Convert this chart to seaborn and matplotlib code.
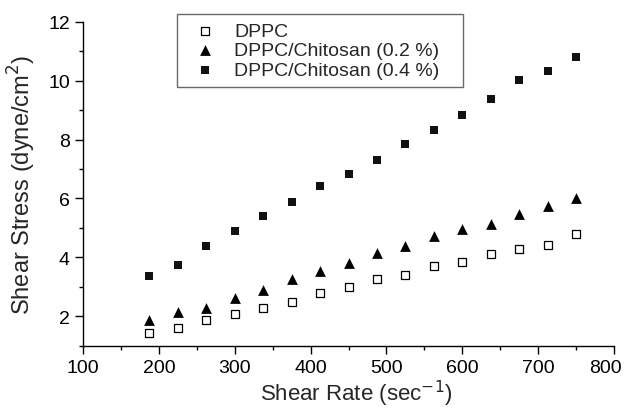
import numpy as np
import matplotlib
matplotlib.use('Agg')  # Non-interactive backend
import matplotlib.pyplot as plt
from matplotlib.ticker import MultipleLocator
from matplotlib.transforms import ScaledTranslation
import seaborn as sns
import pandas as pd

# Shear rate (sec^-1) and shear stress (dyne/cm^2)
shear_rate = [187.5, 225, 262.5, 300, 337.5, 375, 412.5, 450,
              487.5, 525, 562.5, 600, 637.5, 675, 712.5, 750]
stress_dppc = [1.43, 1.60, 1.86, 2.07, 2.27, 2.50, 2.78, 3.00,
               3.26, 3.39, 3.72, 3.85, 4.10, 4.27, 4.43, 4.79]
stress_chi_02 = [1.88, 2.14, 2.27, 2.61, 2.89, 3.26, 3.54, 3.81,
                 4.14, 4.39, 4.72, 4.96, 5.12, 5.46, 5.75, 6.02]
stress_chi_04 = [3.36, 3.73, 4.39, 4.89, 5.41, 5.87, 6.41, 6.82,
                 7.32, 7.85, 8.33, 8.83, 9.37, 10.01, 10.32, 10.80]
labels = ['DPPC', 'DPPC/Chitosan (0.2 %)', 'DPPC/Chitosan (0.4 %)']

sns.set_style('ticks')
plt.rcParams['font.family'] = ['Liberation Sans', 'DejaVu Sans']

fig = plt.figure(figsize=(6.26, 4.10), dpi=100)
ax = fig.add_axes([0.1326, 0.1544, 0.8484, 0.7902])

df = pd.DataFrame({'rate': shear_rate, 'a': stress_dppc,
                   'b': stress_chi_02, 'c': stress_chi_04})

sns.scatterplot(data=df, x='rate', y='a', marker='s', s=26, color='white',
                edgecolor='black', linewidth=0.9, label=labels[0], ax=ax)
sns.scatterplot(data=df, x='rate', y='b', marker='^', s=60, color='black',
                edgecolor='black', linewidth=0, label=labels[1], ax=ax)
sns.scatterplot(data=df, x='rate', y='c', marker='s', s=38, color='#111111',
                edgecolor='black', linewidth=0, label=labels[2], ax=ax)

ax.set_xlim(100, 800)
ax.set_ylim(1, 12)
ax.xaxis.set_major_locator(MultipleLocator(100))
ax.xaxis.set_minor_locator(MultipleLocator(50))
ax.yaxis.set_major_locator(MultipleLocator(2))
ax.yaxis.set_minor_locator(MultipleLocator(1))
ax.set_yticks([2, 4, 6, 8, 10, 12])

for side in ['top', 'right']:
    ax.spines[side].set_visible(False)
for side in ['left', 'bottom']:
    ax.spines[side].set_linewidth(1.0)
    ax.spines[side].set_color('black')

ax.tick_params(which='major', direction='out', length=5.5, width=1, labelsize=14,
               colors='black', pad=4)
ax.tick_params(which='minor', direction='out', length=3, width=1, colors='black')

ax.set_xlabel('Shear Rate (sec$^{-1}$)', fontsize=16)
ax.xaxis.set_label_coords(0.515, -0.098)
ax.set_ylabel('Shear Stress (dyne/cm$^{2}$)', fontsize=17, labelpad=7)

leg = ax.legend(loc='upper left', bbox_to_anchor=(0.177, 0.5, 0.5386, 0.524),
                mode='expand', borderaxespad=0, frameon=True, fancybox=False,
                fontsize=14, handletextpad=0.5, labelspacing=0.08, borderpad=0.45,
                handlelength=2.0)
leg.get_frame().set_edgecolor('#444444')
leg.get_frame().set_linewidth(1.0)

# nudge the "800" label so it stays inside the figure like in the original
fig.canvas.draw()
for lbl in ax.get_xticklabels():
    if lbl.get_text() == '800':
        lbl.set_transform(lbl.get_transform() + ScaledTranslation(-0.09, 0, fig.dpi_scale_trans))

plt.savefig('out.png', dpi=100)
print("Saved out.png")
